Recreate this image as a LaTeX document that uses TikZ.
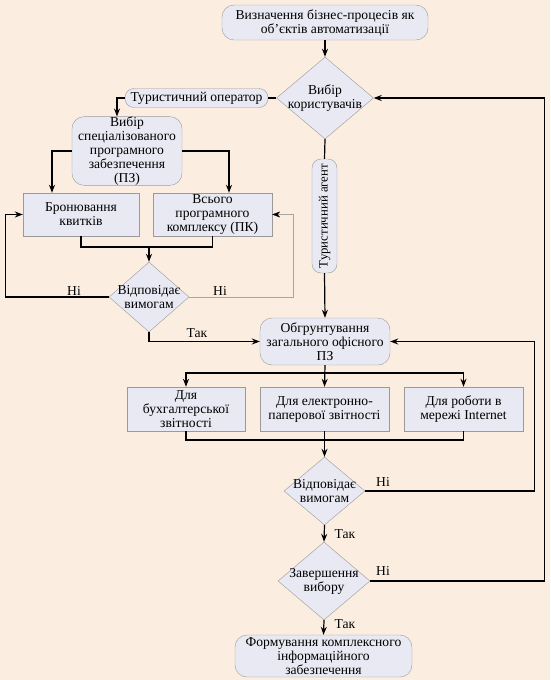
\documentclass[tikz,border=0pt]{standalone}
\usepackage{fontspec}
\setmainfont{Liberation Serif}
\usetikzlibrary{shapes.geometric,arrows.meta}
\definecolor{bg}{HTML}{FBEEE1}
\definecolor{boxfill}{HTML}{E8E9F2}
\definecolor{boxline}{HTML}{9A9A9A}

\begin{document}
\begin{tikzpicture}[x=1pt, y=-1pt, >={Stealth[length=8pt,width=6pt]},
		font=\fontsize{13.6}{14}\selectfont,
		box/.style={draw=boxline, fill=boxfill, align=center, inner sep=0pt},
		rbox/.style={box, rounded corners=12pt},
		pill/.style={box, rounded corners=9pt},
		dec/.style={diamond, draw=boxline, fill=boxfill, align=center, inner xsep=-34pt, inner ysep=-12pt},
		line/.style={line width=1.2pt},
		link/.style={line, ->},
		lbl/.style={inner sep=0pt}]
		\useasboundingbox (0,0) rectangle (550,680);
		\fill[bg] (0,0) rectangle (550,680);
		
		% Top part
		\node[rbox, minimum width=206, minimum height=35] (start) at (325,22.5) {Визначення бізнес-процесів як\\об’єктів автоматизації};
		\node[dec, minimum width=97, minimum height=82] (users) at (325,98) {Вибір\\користувачів};
		\node[pill, minimum width=143, minimum height=19] (oper) at (196.5,98) {Туристичний оператор};
		\node[pill, rotate=90, minimum width=114, minimum height=25, font=\fontsize{12.8}{14}\selectfont] (agent) at (324.5,216) {Туристичний агент};
		
		% Tour operator branch
		\node[rbox, minimum width=110, minimum height=68] (spec) at (127,151) {Вибір\\спеціалізованого\\програмного\\забезпечення\\(ПЗ)};
		\node[box, minimum width=116, minimum height=43] (book) at (81,214.5) {Бронювання\\квитків};
		\node[box, minimum width=119, minimum height=43] (all) at (212.5,214.5) {Всього\\програмного\\комплексу (ПК)};
		\node[dec, minimum width=80, minimum height=70] (check1) at (149,297) {Відповідає\\вимогам};
		\coordinate (join1) at (149,247);
		
		% Office software
		\node[rbox, minimum width=130, minimum height=47] (base) at (325,341.5) {Обгрунтування\\загального офісного\\ПЗ};
		\node[box, minimum width=118, minimum height=44] (acc) at (186,409) {Для\\бухгалтерської\\звітності};
		\node[box, minimum width=129, minimum height=44] (paper) at (324.5,409) {Для електронно-\\паперової звітності};
		\node[box, minimum width=119, minimum height=44] (net) at (463.5,409) {Для роботи в\\мережі Internet};
		\coordinate (split) at (324.5,373);
		\coordinate (join2) at (324.5,440);
		\node[dec, minimum width=81, minimum height=68] (check2) at (324.5,491) {Відповідає\\вимогам};
		\node[dec, minimum width=92, minimum height=78] (finish) at (324,581) {Завершення\\вибору};
		\node[rbox, minimum width=177, minimum height=42] (result) at (323.5,656) {Формування комплексного\\інформаційного\\забезпечення};
		
		% Connectors
		\draw[link] (start) -- (users);
		\draw[line] (users.west) -- (oper.east);
		\draw[link] (oper.west) -| ([xshift=-10pt]spec.north);
		\draw[link] (spec.west) -| ([xshift=-29pt]book.north);
		\draw[link] (spec.east) -| ([xshift=16.5pt]all.north);
		\draw[line] (book.south) |- (join1) -| (all.south);
		\draw[link] (join1) -- (check1.north);
		\draw[link] (check1.west) -- ++(-103,0) |- (book.west);
		\draw[thin, draw=black!35, -{Stealth[length=8pt,width=6pt,color=black]}] (check1.east) -- ++(104,0) |- (all.east);
		\draw[link] (check1.south) |- (base.west);
		\node[lbl] (no1) at (74,291) {Ні};
		\node[lbl] (no2) at (220,291) {Ні};
		\node[lbl] (yes1) at (197,333) {Так};
		
		\draw[line] (users.south) -- (agent.east);
		\draw[link] (agent.west) -- (base.north);
		\draw[link] (base.south) -- (paper.north);
		\draw[link] (split) -| (acc.north);
		\draw[link] (split) -| (net.north);
		\draw[line] (acc.south) |- (join2) -| (net.south);
		\draw[link] (paper.south) -- (check2.north);
		\draw[link] (check2.east) -- ++(169.5,0) |- (base.east);
		\draw[link] (check2.south) -- (finish.north);
		\draw[link] (finish.east) -- ++(174,0) |- (users.east);
		\draw[link] (finish.south) -- (result.north);
		\node[lbl] (no3) at (383,482) {Ні};
		\node[lbl] (yes2) at (345,534) {Так};
		\node[lbl] (no4) at (383,571) {Ні};
		\node[lbl] (yes3) at (345,624) {Так};
	\end{tikzpicture}
\end{document}
